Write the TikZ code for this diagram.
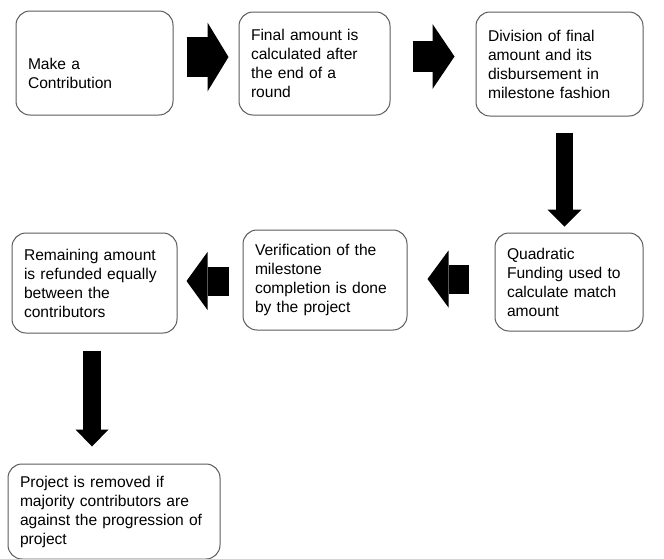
\documentclass[tikz,border=0pt]{standalone}
\usepackage{fontspec}
\setmainfont{Liberation Sans}
\usetikzlibrary{arrows.meta, calc}
\definecolor{boxline}{HTML}{5A5A5A}
\definecolor{arrowfill}{HTML}{000000}

\begin{document}
\begin{tikzpicture}[
    x=1pt, y=-1pt,
    every node/.style={font=\fontsize{15.6}{19}\selectfont},
    stepbox/.style n args={2}{rectangle, rounded corners=14pt, draw=boxline,
                 line width=1pt, minimum width=#1, minimum height=#2,
                 text width={#1-24pt}, inner xsep=12pt, align=left},
    bigarrow/.style n args={3}{arrowfill, line width=#1,
                 -{Triangle[length=#3, width=#2, line width=0pt]}},
]
\useasboundingbox (0,0) rectangle (664,558);

% ---------------------------------------------------------------- top row
\node[stepbox={157pt}{104pt}] (contrib) at (94.5, 63)   {\rule{0pt}{32pt}Make a\\Contribution};
\node[stepbox={151pt}{103pt}] (final)   at (314.5, 63.5) {Final amount is\\calculated after\\the end of a\\round};
\node[stepbox={167pt}{104pt}] (divide)  at (559.5, 64)  {Division of final\\amount and its\\disbursement in\\milestone fashion};

% ---------------------------------------------------------------- middle row
\node[stepbox={148pt}{98pt}]  (quad)    at (569, 282)   {Quadratic\\Funding used to\\calculate match\\amount};
\node[stepbox={164pt}{100pt}] (verify)  at (325, 280)   {Verification of the\\milestone\\completion is done\\by the project};
\node[stepbox={165pt}{100pt}] (refund)  at (94.5, 283)  {Remaining amount\\is refunded equally\\between the\\contributors};

% ---------------------------------------------------------------- bottom
\node[stepbox={212pt}{95pt}]  (remove)  at (114, 511.5) {Project is removed if\\majority contributors are\\against the progression of\\project};

% ---------------------------------------------------------------- arrows
\draw[bigarrow={40pt}{69pt}{21pt}, shorten <=13pt, shorten >=10pt]
    ([yshift=6pt]contrib.east) -- ([yshift=6pt]contrib.east -| final.west);
\draw[bigarrow={31pt}{65pt}{22pt}, shorten <=22pt, shorten >=21pt]
    ([yshift=7pt]final.east) -- ([yshift=7pt]final.east -| divide.west);
\draw[bigarrow={17pt}{34pt}{17pt}, shorten <=16pt, shorten >=6pt]
    ([xshift=5pt]divide.south) -- ([xshift=5pt]divide.south |- quad.north);
\draw[bigarrow={29pt}{57pt}{21pt}, shorten <=26pt, shorten >=20pt]
    ([yshift=3pt]quad.west) -- ([yshift=3pt]quad.west -| verify.east);
\draw[bigarrow={29pt}{58pt}{21pt}, shorten <=14pt, shorten >=9pt]
    ([yshift=-1pt]verify.west) -- ([yshift=-1pt]verify.west -| refund.east);
\draw[bigarrow={18pt}{33pt}{17pt}, shorten <=17pt, shorten >=17pt]
    ([xshift=-2.5pt]refund.south) -- ([xshift=-2.5pt]refund.south |- remove.north);
\end{tikzpicture}
\end{document}
